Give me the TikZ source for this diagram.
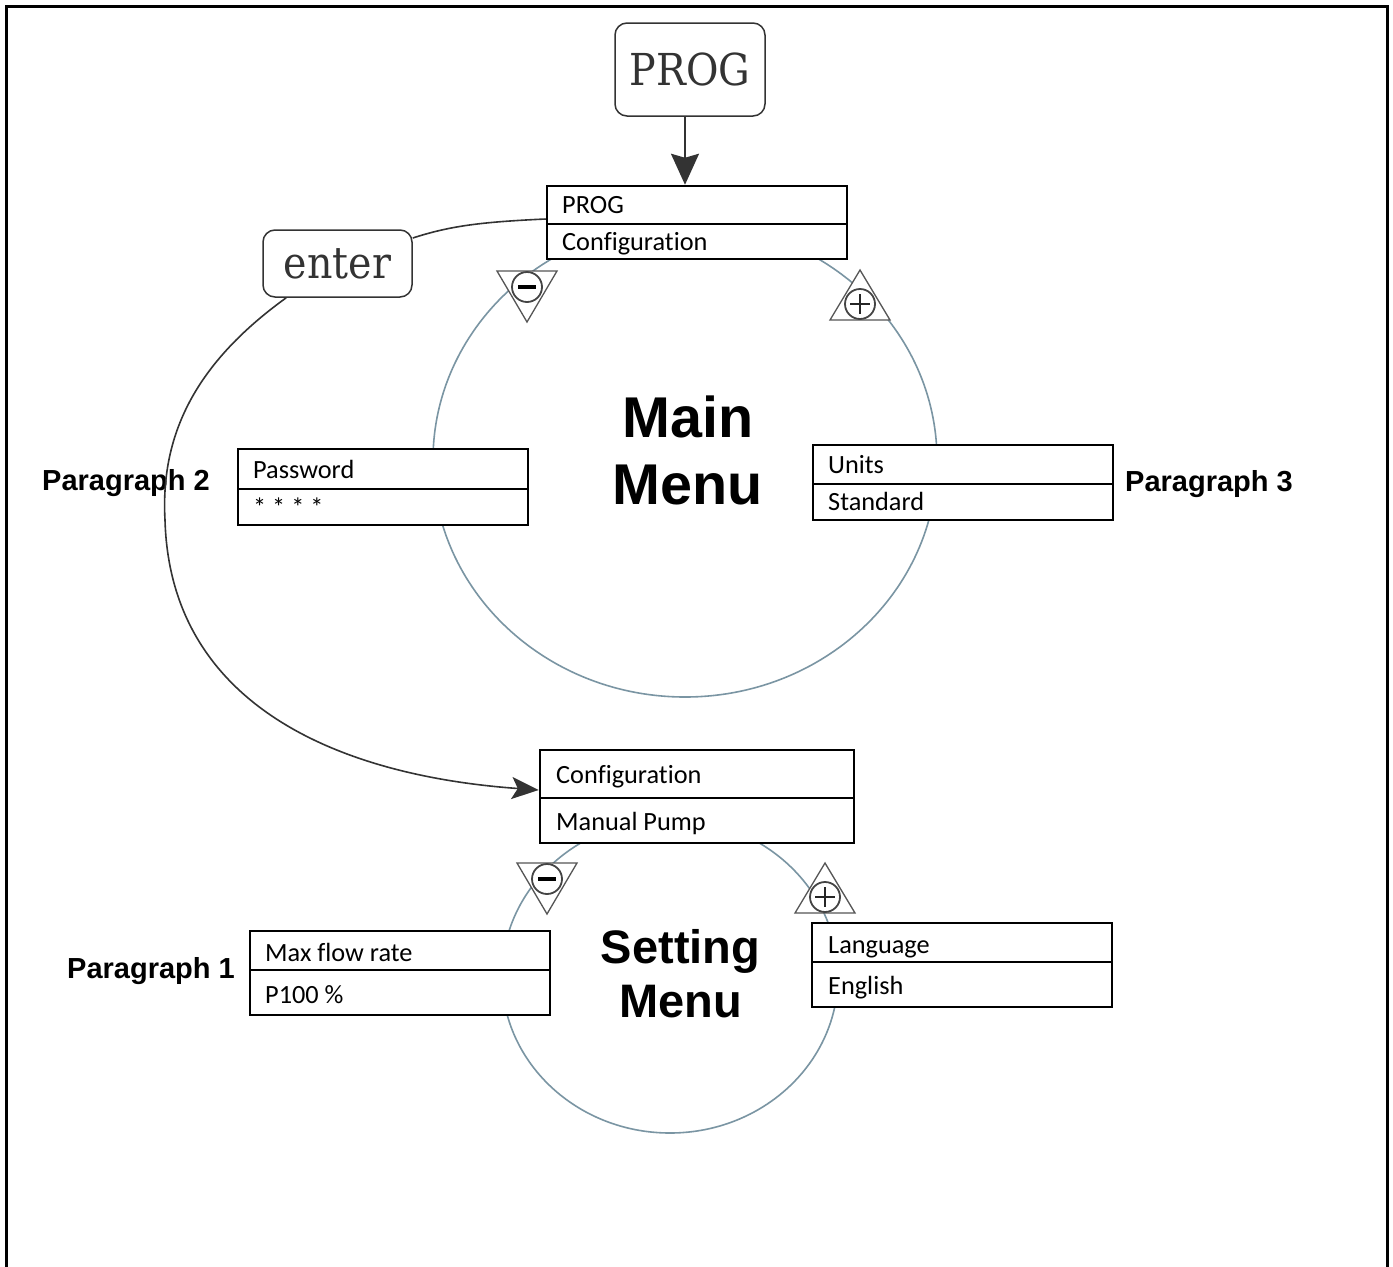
\documentclass[tikz,border=0pt]{standalone}
\usepackage{fontspec}
\newfontfamily\calib{Carlito}[Ligatures=NoCommon]
\newfontfamily\arialf{Liberation Sans}
\newfontfamily\slab{DejaVu Serif}[FakeStretch=0.9]
\usetikzlibrary{arrows.meta,calc}
\definecolor{ringc}{HTML}{7A95A3}
\definecolor{curvec}{HTML}{333333}
\definecolor{symc}{HTML}{555555}
\tikzset{
  boxnode/.style={draw=black, line width=2.5pt, fill=white, inner sep=0pt},
  boxtxt/.style={font=\calib\fontsize{26.3}{30}\selectfont, inner sep=0pt, anchor=base west},
  btn/.style={draw=curvec, line width=1.5pt, rounded corners=12pt, fill=white, inner sep=0pt, text=curvec, font=\slab\fontsize{44}{50}\selectfont},
  paratxt/.style={font=\arialf\bfseries\fontsize{29}{32}\selectfont, inner sep=0pt, anchor=base west},
  ring/.style={draw=ringc, line width=1.6pt},
  conn/.style={draw=curvec, line width=1.6pt},
  minussym/.pic={
    \draw[symc, line width=1.3pt, fill=white] (-30,-16) -- (30,-16) -- (0,35) -- cycle;
    \draw[symc!80!black, line width=1.8pt, fill=white] (0,0) circle (15pt);
    \draw[black, line width=4.5pt] (-9,0) -- (9,0);
  },
  plussym/.pic={
    \draw[symc, line width=1.3pt, fill=white] (-30,16) -- (30,16) -- (0,-34) -- cycle;
    \draw[symc!80!black, line width=1.8pt, fill=white] (0,0) circle (15pt);
    \draw[black!85, line width=1.6pt] (-10,0) -- (10,0) (0,-10) -- (0,10);
  }
}
\begin{document}
\begin{tikzpicture}[x=1pt,y=-1pt]
\useasboundingbox (0,0) rectangle (1393,1267);
\fill[white] (0,0) rectangle (1393,1267);
% frame (open at bottom)
\draw[line width=3pt] (6.5,1267) -- (6.5,6.5) -- (1387,6.5) -- (1387,1267);

% menu rings
\draw[ring] (685,460) ellipse [x radius=252pt, y radius=237pt];
\draw[ring] (670,976) ellipse [x radius=168pt, y radius=157pt];

% minus / plus symbols
\pic at (527,287) {minussym};
\pic at (860,304) {plussym};
\pic at (547,879) {minussym};
\pic at (825,897) {plussym};

% buttons
\node[btn, minimum width=150pt, minimum height=93pt] (progbtn) at (690,69.5) {PROG};
\node[btn, minimum width=149pt, minimum height=67pt] (enter) at (337.5,263.5) {enter};

% PROG / Configuration
\node[boxnode, minimum width=300pt, minimum height=73pt] (mmtop) at (697,222.5) {};
\draw[line width=2.5pt] (547,224) -- (847,224);
\node[boxtxt] (t1) at (562,213) {PROG};
\node[boxtxt] (t2) at (562,250) {Configuration};

% Password
\node[boxnode, minimum width=290pt, minimum height=76pt] (pwd) at (383,487) {};
\draw[line width=2.5pt] (238,489) -- (528,489);
\node[boxtxt] (t3) at (253,478) {Password};
\node[boxtxt] (t4) at (253,516) {* * * *};

% Units
\node[boxnode, minimum width=300pt, minimum height=75pt] (units) at (963,482.5) {};
\draw[line width=2.5pt] (813,484) -- (1113,484);
\node[boxtxt] (t5) at (828,473) {Units};
\node[boxtxt] (t6) at (828,510) {Standard};

% Configuration / Manual Pump
\node[boxnode, minimum width=314pt, minimum height=93pt] (setbox) at (697,796.5) {};
\draw[line width=2.5pt] (540,798) -- (854,798);
\node[boxtxt] (t7) at (556,783) {Configuration};
\node[boxtxt] (t8) at (556,830) {Manual Pump};

% Max flow rate
\node[boxnode, minimum width=300pt, minimum height=84pt] (maxflow) at (400,973) {};
\draw[line width=2.5pt] (250,970) -- (550,970);
\node[boxtxt] (t9) at (265,961) {Max flow rate};
\node[boxtxt] (t10) at (265,1003) {P100 \%};

% Language
\node[boxnode, minimum width=300pt, minimum height=84pt] (lang) at (962,965) {};
\draw[line width=2.5pt] (812,962) -- (1112,962);
\node[boxtxt] (t11) at (828,953) {Language};
\node[boxtxt] (t12) at (828,994) {English};

% titles
\node[font=\arialf\bfseries\fontsize{57.5}{67}\selectfont, inner sep=0pt, anchor=base] (mm1) at (688,437) {Main};
\node[font=\arialf\bfseries\fontsize{57.5}{67}\selectfont, inner sep=0pt, anchor=base] (mm2) at (688,504) {Menu};
\node[font=\arialf\bfseries\fontsize{47}{54}\selectfont, inner sep=0pt, anchor=base] (sm1) at (680.5,963) {Setting};
\node[font=\arialf\bfseries\fontsize{47}{54}\selectfont, inner sep=0pt, anchor=base] (sm2) at (681,1017) {Menu};

% paragraph labels
\node[paratxt] (p2) at (42,490) {Paragraph 2};
\node[paratxt] (p3) at (1125,491) {Paragraph 3};
\node[paratxt] (p1) at (67,978) {Paragraph 1};

% connectors
\draw[conn, line width=1.8pt, -{Stealth[length=31pt, width=28pt, inset=4pt]}]
  ([xshift=-5pt]progbtn.south) -- ([xshift=-12pt]mmtop.north);
\draw[conn] ([yshift=3.5pt]mmtop.west) .. controls (480,222) and (450,226) .. ([yshift=25.5pt]enter.east);
\draw[conn, -{Stealth[length=27pt, width=22pt, inset=6pt]}]
  ([xshift=24pt]enter.south west) .. controls (200,360) and (160,430) .. (165,520)
  .. controls (170,700) and (330,775) .. ([yshift=6.5pt]setbox.west);
\end{tikzpicture}
\end{document}
